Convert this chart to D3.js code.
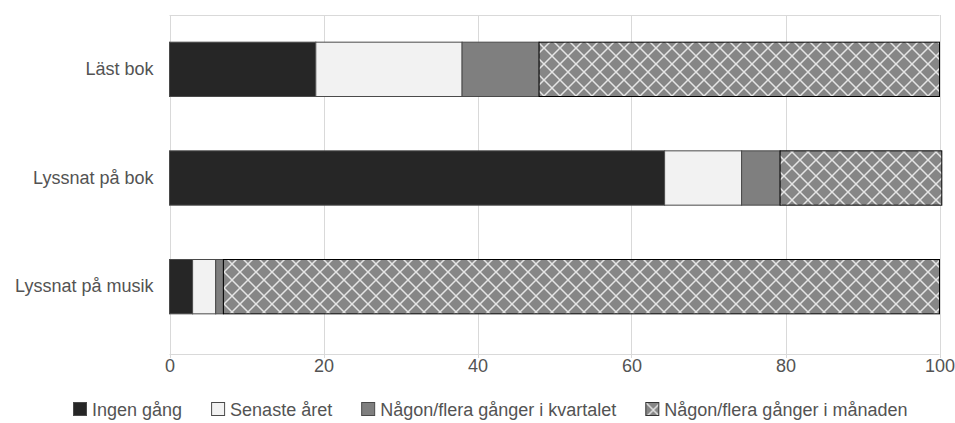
<!DOCTYPE html>
<html><head><meta charset="utf-8">
<script src="https://cdn.jsdelivr.net/npm/d3@7"></script>
<style>body{margin:0;background:#fff}svg{display:block;font-family:"Liberation Sans",Arial,sans-serif}</style>
</head><body><svg id="c" width="955" height="423"></svg>
<script>
const categories = ["Läst bok", "Lyssnat på bok", "Lyssnat på musik"];
const seriesNames = ["Ingen gång", "Senaste året", "Någon/flera gånger i kvartalet", "Någon/flera gånger i månaden"];
const ingenGang = [19, 64.3, 3];
const senasteAret = [19, 10, 3];
const kvartalet = [10, 5, 1];
const manaden = [52, 21, 93];
const xTicks = [0, 20, 40, 60, 80, 100];

(function () {
const seriesValues = [ingenGang, senasteAret, kvartalet, manaden];
const fills = ["#262626", "#f2f2f2", "#7f7f7f", "url(#lattice)"];
const strokes = ["#4a4a4a", "#4a4a4a", "#4a4a4a", "#000"];
const fs = 18;
const txt = "#535353";

const svg = d3.select("#c");
const defs = svg.append("defs");
const pw = 16;
const pat = defs.append("pattern").attr("id", "lattice").attr("patternUnits", "userSpaceOnUse")
  .attr("width", pw).attr("height", pw);
pat.append("rect").attr("width", pw).attr("height", pw).attr("fill", "#868686");
pat.append("path").attr("d", `M0,0L${pw},${pw}M${pw},0L0,${pw}`).attr("stroke", "#e4e4e4").attr("stroke-width", 1.5).attr("fill", "none");

const mLeft = 169.5, mRight = 939.5, mTop = 15, bandBottom = 341, axisY = 354;
const x = d3.scaleLinear().domain([0, 100]).range([mLeft, mRight]);
const y = d3.scaleBand().domain(categories).range([mTop, bandBottom]).paddingInner(0.5).paddingOuter(0.25);

// grid
const g = svg.append("g");
g.selectAll("line.grid").data(xTicks).join("line")
  .attr("x1", d => Math.round(x(d)) + 0.5).attr("x2", d => Math.round(x(d)) + 0.5)
  .attr("y1", mTop).attr("y2", axisY + 4)
  .attr("stroke", "#d9d9d9").attr("stroke-width", 1);
g.append("line").attr("x1", x(0)).attr("x2", x(100)).attr("y1", mTop + 0.5).attr("y2", mTop + 0.5).attr("stroke", "#d9d9d9");
g.append("line").attr("x1", x(0)).attr("x2", x(100)).attr("y1", axisY + 0.5).attr("y2", axisY + 0.5).attr("stroke", "#d9d9d9");

// x axis labels
const xa = svg.append("g").attr("transform", `translate(0,${axisY})`)
  .call(d3.axisBottom(x).tickValues(xTicks).tickSize(0).tickPadding(5).tickFormat(d3.format("d")));
xa.select(".domain").remove();
xa.selectAll("text").attr("fill", txt).attr("font-size", fs).attr("font-family", "Liberation Sans, Arial, sans-serif");

// y axis labels
const ya = svg.append("g").attr("transform", `translate(${mLeft},0)`)
  .call(d3.axisLeft(y).tickSize(0).tickPadding(16));
ya.select(".domain").remove();
ya.selectAll("text").attr("fill", txt).attr("font-size", fs).attr("font-family", "Liberation Sans, Arial, sans-serif");

// stacked bars
const rows = categories.map((c, i) => {
  const o = { cat: c };
  seriesNames.forEach((s, j) => o[s] = seriesValues[j][i]);
  return o;
});
const stack = d3.stack().keys(seriesNames)(rows);
stack.forEach((layer, j) => {
  svg.append("g").selectAll("rect").data(layer).join("rect")
    .attr("x", d => x(d[0])).attr("width", d => x(d[1]) - x(d[0]))
    .attr("y", d => y(d.data.cat)).attr("height", y.bandwidth())
    .attr("fill", fills[j]).attr("stroke", strokes[j]).attr("stroke-width", 1);
});

// legend
const lg = svg.append("g").attr("transform", "translate(73,402)");
let cx = 0;
seriesNames.forEach((s, j) => {
  const it = lg.append("g").attr("transform", `translate(${cx},0)`);
  it.append("rect").attr("x", 0.5).attr("y", 0.5).attr("width", 13).attr("height", 13)
    .attr("fill", fills[j]).attr("stroke", strokes[j] === "#000" ? "#333" : strokes[j]);
  const t = it.append("text").attr("x", 19).attr("y", 14).attr("font-size", fs).attr("fill", txt).text(s);
  cx += 19 + t.node().getComputedTextLength() + 29;
});
})();
</script></body></html>
